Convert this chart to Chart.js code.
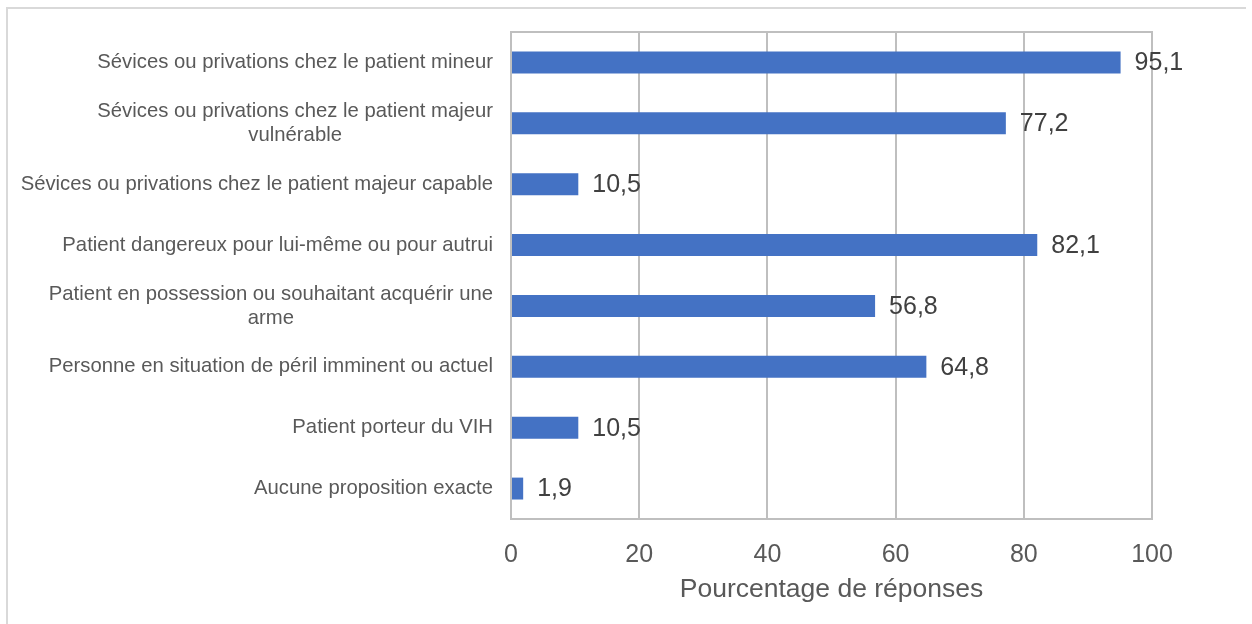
<!DOCTYPE html>
<html>
<head>
<meta charset="utf-8">
<script src="https://cdn.jsdelivr.net/npm/chart.js@4"></script>
<style>
  html, body { margin: 0; padding: 0; background: #fff; }
  #wrap { width: 1252px; height: 624px; }
</style>
</head>
<body>
<div id="wrap"><canvas id="chart" width="1252" height="624"></canvas></div>
<script>
// données
const categories = [
    ['Sévices ou privations chez le patient mineur'],
    ['Sévices ou privations chez le patient majeur', 'vulnérable'],
    ['Sévices ou privations chez le patient majeur capable'],
    ['Patient dangereux pour lui-même ou pour autrui'],
    ['Patient en possession ou souhaitant acquérir une', 'arme'],
    ['Personne en situation de péril imminent ou actuel'],
    ['Patient porteur du VIH'],
    ['Aucune proposition exacte'],
];
const percentages = [95.1, 77.2, 10.5, 82.1, 56.8, 64.8, 10.5, 1.9];
const xTicks = [0, 20, 40, 60, 80, 100];
const xTitle = 'Pourcentage de réponses';

const FONT = "'Liberation Sans', Arial, sans-serif";
const GRID = '#BFBFBF';

// cadre, bordure du graphique, libellés Y et étiquettes de données
const decorPlugin = {
    id: 'decor',
    beforeDraw(chart) {
        const ctx = chart.ctx;
        ctx.save();
        ctx.fillStyle = '#fff';
        ctx.fillRect(0, 0, chart.width, chart.height);
        ctx.strokeStyle = '#D9D9D9';
        ctx.lineWidth = 2;
        ctx.beginPath();
        ctx.moveTo(7, chart.height);
        ctx.lineTo(7, 8);
        ctx.lineTo(1246, 8);
        ctx.stroke();
        ctx.restore();
    },
    afterDraw(chart) {
        const ctx = chart.ctx;
        const area = chart.chartArea;
        const yScale = chart.scales.y;
        ctx.save();
        ctx.strokeStyle = GRID;
        ctx.lineWidth = 2;
        ctx.strokeRect(area.left, area.top, area.right - area.left, area.bottom - area.top);

        // libellés des catégories
        ctx.font = '20.3px ' + FONT;
        ctx.fillStyle = '#595959';
        ctx.textAlign = 'center';
        ctx.textBaseline = 'middle';
        const lineH = 24;
        categories.forEach((lines, i) => {
            const yc = yScale.getPixelForValue(i);
            const maxW = Math.max(...lines.map(l => ctx.measureText(l).width));
            const xc = area.left - 18 - maxW / 2;
            const y0 = yc - (lines.length - 1) * lineH / 2;
            lines.forEach((l, j) => ctx.fillText(l, xc, y0 + j * lineH));
        });

        // valeurs
        ctx.font = '25px ' + FONT;
        ctx.fillStyle = '#404040';
        ctx.textAlign = 'left';
        const meta = chart.getDatasetMeta(0);
        meta.data.forEach((bar, i) => {
            const txt = percentages[i].toFixed(1).replace('.', ',');
            ctx.fillText(txt, bar.x + 14, bar.y + 1);
        });
        ctx.restore();
    }
};

new Chart(document.getElementById('chart'), {
    type: 'bar',
    data: {
        labels: categories,
        datasets: [{
            data: percentages,
            backgroundColor: '#4472C4',
            borderWidth: 0,
            barPercentage: 0.36,
            categoryPercentage: 1,
        }],
    },
    options: {
        indexAxis: 'y',
        responsive: false,
        animation: false,
        events: [],
        layout: { padding: { top: 32, right: 100, left: 0, bottom: 0 } },
        plugins: {
            legend: { display: false },
            tooltip: { enabled: false },
        },
        scales: {
            x: {
                min: 0,
                max: 100,
                afterBuildTicks(scale) {
                    scale.ticks = xTicks.map(v => ({ value: v }));
                },
                afterFit(scale) { scale.height = 105; },
                grid: { color: GRID, lineWidth: 2, drawTicks: false },
                border: { display: true, color: GRID, width: 2 },
                ticks: {
                    color: '#595959',
                    font: { family: FONT, size: 25 },
                    padding: 21,
                },
                title: {
                    display: true,
                    text: xTitle,
                    color: '#595959',
                    font: { family: FONT, size: 26.5 },
                    padding: { top: 0, bottom: 18 },
                },
            },
            y: {
                afterFit(scale) { scale.width = 511; },
                grid: { display: false },
                border: { display: false },
                ticks: { display: false },
            },
        },
    },
    plugins: [decorPlugin],
});
</script>
</body>
</html>
